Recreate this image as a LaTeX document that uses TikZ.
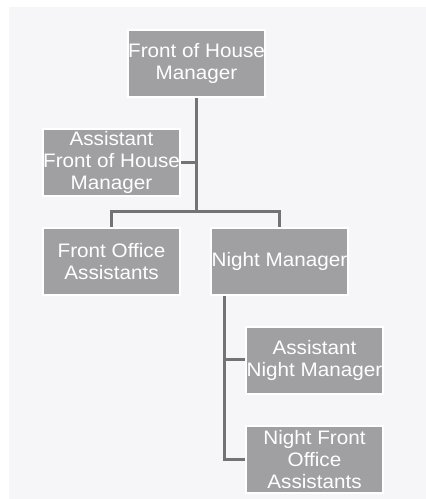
\documentclass[tikz,border=0pt]{standalone}
\usepackage{fontspec}
\setmainfont[FakeStretch=1.06]{Liberation Sans}
\definecolor{boxgray}{HTML}{A0A0A2}
\definecolor{linegray}{HTML}{737373}
\definecolor{bggray}{HTML}{F6F6F8}
\begin{document}
\begin{tikzpicture}[x=1pt,y=-1pt,
  orgbox/.style={draw=white,line width=1.5pt,fill=boxgray,text=white,minimum width=137pt,minimum height=67pt,inner sep=0pt,align=center,font=\fontsize{19.5}{22}\selectfont},
  link/.style={draw=linegray,line width=3pt}]
\useasboundingbox (0,0) rectangle (426,499);
\fill[bggray] (9,7) rectangle (426,499);
\node[orgbox] (foh) at (196.5,63.5) {Front of House\\Manager};
\node[orgbox] (afoh) at (111.5,162.5) {Assistant\\Front of House\\Manager};
\node[orgbox] (foa) at (111.5,261.5) {Front Office\\Assistants};
\node[orgbox] (nm) at (279.5,261.5) {Night Manager};
\node[orgbox] (anm) at (314.5,360.5) {Assistant\\Night Manager};
\node[orgbox] (nfoa) at (314.5,459.5) {Night Front\\Office\\Assistants};
\coordinate (j1) at (196,211);
\coordinate (j2) at (224,359);
\coordinate (j3) at (224,459);
\draw[link] (foh.south -| j1) -- (j1);
\draw[link] (afoh.east) -- (afoh.east -| j1);
\draw[link] (foa.north) |- (j1) -| (nm.north);
\draw[link] (nm.south -| j2) -- (j3) -- (nfoa.west |- j3);
\draw[link] (j2) -- (anm.west |- j2);
\end{tikzpicture}
\end{document}
